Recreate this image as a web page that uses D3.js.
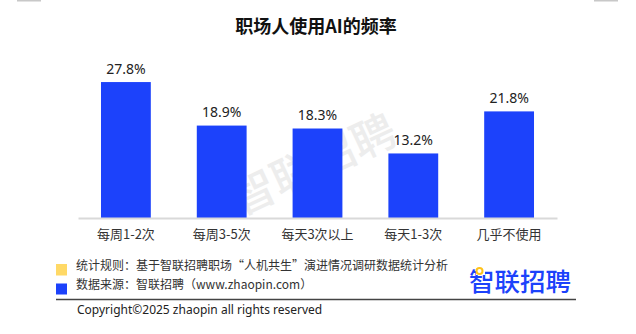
<!DOCTYPE html>
<html><head><meta charset="utf-8">
<script src="https://cdn.jsdelivr.net/npm/d3@7"></script>
<style>
html,body{margin:0;padding:0;background:#fff;}
svg{display:block;font-family:"Noto Sans","Noto Sans CJK SC",sans-serif;}
</style></head>
<body><svg id="c" width="636" height="334"></svg>
<script>
const categories = ["每周1-2次","每周3-5次","每天3次以上","每天1-3次","几乎不使用"];
const values = [27.8, 18.9, 18.3, 13.2, 21.8];
const valueLabels = ["27.8%","18.9%","18.3%","13.2%","21.8%"];
const title = "职场人使用AI的频率";
const notes = ["统计规则：基于智联招聘职场“人机共生”演进情况调研数据统计分析","数据来源：智联招聘（www.zhaopin.com）"];
const copyright = "Copyright©2025 zhaopin all rights reserved";
const brand = "智联招聘";

const svg = d3.select("#c");
const blue = "#1c42fb";

// top edge marks
svg.append("rect").attr("x",17).attr("y",0).attr("width",24).attr("height",1.5).attr("fill","#c8c8c8");
svg.append("rect").attr("x",594).attr("y",0).attr("width",24).attr("height",1.5).attr("fill","#c8c8c8");

svg.append("text").attr("x",316).attr("y",33).attr("text-anchor","middle")
  .attr("font-size",18).attr("font-weight","bold").attr("fill","#111")
  .style("font-family",'"Noto Sans CJK SC",sans-serif').text(title);

const x = d3.scaleBand().domain(categories).range([78,557]).paddingInner(0.48).paddingOuter(0.24);
const y = d3.scaleLinear().domain([0,30]).range([218, 218-30*4.89]);

// watermark
svg.append("text").attr("transform","translate(315,168) rotate(-25)")
  .attr("text-anchor","middle").attr("dominant-baseline","middle")
  .attr("font-size",44).attr("font-weight","500").attr("fill","#ededed")
  .style("font-family",'"Noto Sans CJK SC",sans-serif').text(brand);

svg.append("g").selectAll("rect").data(values).join("rect")
  .attr("x",(d,i)=>x(categories[i])).attr("width",x.bandwidth())
  .attr("y",d=>y(d)).attr("height",d=>y(0)-y(d)).attr("fill",blue);

svg.append("g").selectAll("text").data(values).join("text")
  .attr("x",(d,i)=>x(categories[i])+x.bandwidth()/2).attr("y",d=>y(d)-8.5)
  .attr("text-anchor","middle").attr("font-size",14).attr("fill","#222")
  .text((d,i)=>valueLabels[i]);

const ax = svg.append("g").attr("transform","translate(0,218)")
  .call(d3.axisBottom(x).tickSize(0).tickPadding(12));
ax.select(".domain").attr("stroke","#d9d9d9").attr("stroke-width",2);
ax.selectAll("text").attr("font-size",13).attr("fill","#333")
  .style("font-family",'"Noto Sans CJK SC",sans-serif');

// footer
svg.append("rect").attr("x",56).attr("y",264).attr("width",11).attr("height",11.5).attr("fill","#ffd966");
svg.append("rect").attr("x",56).attr("y",283.5).attr("width",11).attr("height",11).attr("fill",blue);
svg.append("g").selectAll("text").data(notes).join("text")
  .attr("x",76).attr("y",(d,i)=>269.5+i*19).attr("font-size",12).attr("fill","#333")
  .style("font-family",'"Noto Sans CJK SC",sans-serif').text(d=>d);
svg.append("line").attr("x1",56).attr("x2",576).attr("y1",299.5).attr("y2",299.5)
  .attr("stroke","#444").attr("stroke-width",1.5);
svg.append("text").attr("x",77).attr("y",313.5).attr("font-size",12).attr("fill","#222")
  .text(copyright);

// logo
svg.append("text").attr("x",469).attr("y",291).attr("font-size",25.5).attr("font-weight","500")
  .attr("fill",blue).attr("textLength",102).style("font-family",'"Noto Sans CJK SC",sans-serif').text(brand);
svg.append("rect").attr("x",476).attr("y",266).attr("width",9).attr("height",9).attr("fill","#fff");
svg.append("circle").attr("cx",479.5).attr("cy",271).attr("r",3).attr("fill","#fff")
  .attr("stroke","#ffc21a").attr("stroke-width",2);
</script></body></html>
